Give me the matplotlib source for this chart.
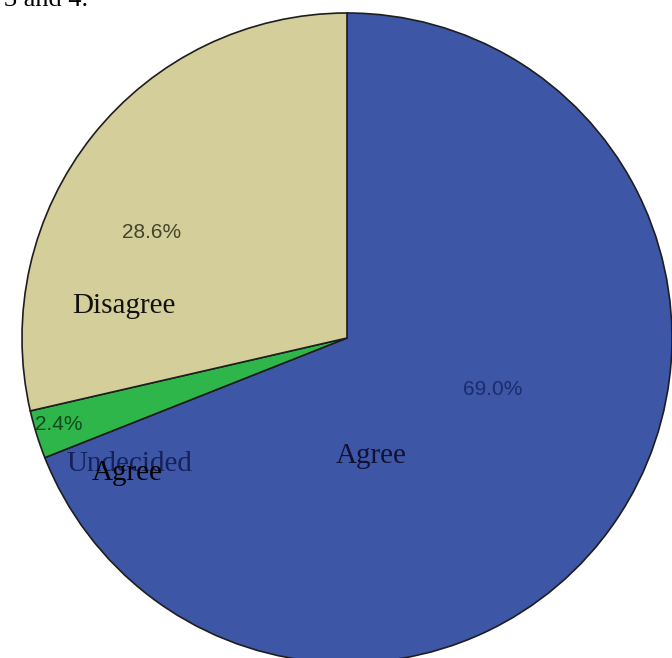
import matplotlib.pyplot as plt

# response shares (percent), drawn clockwise from 12 o'clock
labels = ["Agree", "Undecided", "Disagree"]
shares = [69.0, 2.4, 28.6]
colors = ["#3D56A6", "#2EB64B", "#D4CF9A"]

W, H = 672, 658

def py(y):
    # convert a top-down pixel row to axes y
    return H - y

fig = plt.figure(figsize=(W / 100, H / 100), dpi=100)
ax = fig.add_axes([0, 0, 1, 1])

ax.pie(shares, colors=colors, startangle=90, counterclock=False,
       center=(347, py(338)), radius=325,
       wedgeprops=dict(edgecolor="#1E1E1E", linewidth=1.2))
ax.set_xlim(0, W)
ax.set_ylim(0, H)
ax.set_aspect("auto")
ax.axis("off")

serif = "Liberation Serif"
sans = "Liberation Sans"

# caption line from the page above, cut off at the top edge
ax.text(4, py(6), "3 and 4.", fontsize=19, family=serif, ha="left", va="baseline")

# percentage labels
pct_pos = {"Agree": (493, 395), "Undecided": (59, 430), "Disagree": (152, 238)}
pct_col = {"Agree": "#1C2C6E", "Undecided": "#0E4A1E", "Disagree": "#45442C"}
for lab, val in zip(labels, shares):
    x, y = pct_pos[lab]
    ax.text(x, py(y), f"{val:.1f}%", fontsize=15, family=sans,
            color=pct_col[lab], ha="center", va="baseline")

# category labels
ax.text(124, py(313), "Disagree", fontsize=21, family=serif, color="#111111",
        ha="center", va="baseline")
ax.text(371, py(463), "Agree", fontsize=21, family=serif, color="#111133",
        ha="center", va="baseline")
ax.text(129, py(471), "Undecided", fontsize=21, family=serif, color="#16215A",
        ha="center", va="baseline")
ax.text(127, py(480), "Agree", fontsize=21, family=serif, color="#000000",
        ha="center", va="baseline")

fig.savefig("out.png", dpi=100)
